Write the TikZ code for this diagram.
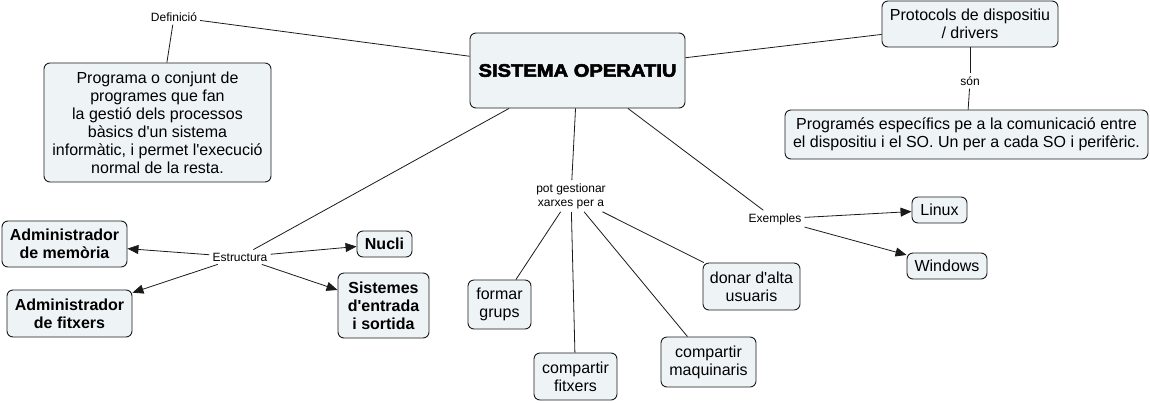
\documentclass[tikz,border=0pt]{standalone}
\usepackage{fontspec}
\setmainfont{Liberation Sans}
\newfontfamily\heavyfont[FakeBold=3]{Liberation Sans Bold}
\usetikzlibrary{arrows.meta}
\definecolor{boxfill}{HTML}{EEF4F6}
\definecolor{edge}{HTML}{1A1A1A}
\newcommand{\apo}{\textquotesingle}
\tikzset{
  concept/.style={draw=edge, line width=0.9pt, fill=boxfill, rounded corners=6pt,
    align=center, inner sep=0pt, font=\fontsize{16}{18}\selectfont},
  boldconcept/.style={concept, font=\fontsize{16}{18}\selectfont\bfseries},
  linklabel/.style={inner sep=3pt, align=center, font=\fontsize{12}{14}\selectfont},
  conn/.style={draw=edge, line width=0.8pt},
  arr/.style={conn, -{Triangle[length=11pt,width=9pt]}}
}
\begin{document}
\begin{tikzpicture}[x=1pt,y=-1pt]
\useasboundingbox (0,0) rectangle (1150,402);
% concepts
\node[concept, minimum width=215pt, minimum height=75pt] (so) at (577.5,70.5)
  {\heavyfont\fontsize{18}{20}\selectfont\scalebox{1.12}[1]{SISTEMA OPERATIU}};
\node[concept, minimum width=227pt, minimum height=119pt] (def) at (157.5,122.5)
  {Programa o conjunt de\\programes que fan\\la gestió dels processos\\bàsics d\apo un sistema\\informàtic, i permet l\apo execució\\normal de la resta.};
\node[concept, minimum width=176pt, minimum height=46pt] (prot) at (970,24)
  {Protocols de dispositiu\\/ drivers};
\node[concept, minimum width=363pt, minimum height=49pt] (prog) at (966.5,134.5)
  {Programés específics pe a la comunicació entre\\el dispositiu i el SO. Un per a cada SO i perifèric.};
\node[boldconcept, minimum width=125pt, minimum height=46pt] (admmem) at (64.5,244)
  {Administrador\\de memòria};
\node[boldconcept, minimum width=55pt, minimum height=26pt] (nucli) at (384.5,244)
  {Nucli};
\node[boldconcept, minimum width=125pt, minimum height=47pt] (admfit) at (69.5,313.5)
  {Administrador\\de fitxers};
\node[boldconcept, minimum width=91pt, minimum height=65pt] (sist) at (383.5,305.5)
  {Sistemes\\d\apo entrada\\i sortida};
\node[concept, minimum width=63pt, minimum height=49pt] (formar) at (499.5,304.5)
  {formar\\grups};
\node[concept, minimum width=83pt, minimum height=47pt] (compfit) at (575.5,376.5)
  {compartir\\fitxers};
\node[concept, minimum width=95pt, minimum height=50pt] (maq) at (708.5,362)
  {compartir\\maquinaris};
\node[concept, minimum width=97pt, minimum height=47pt] (donar) at (751.5,286.5)
  {donar d\apo alta\\usuaris};
\node[concept, minimum width=55pt, minimum height=26pt] (linux) at (939.5,210)
  {Linux};
\node[concept, minimum width=80pt, minimum height=26pt] (windows) at (947,266)
  {Windows};
% link labels
\node[linklabel] (defl) at (174,17) {Definició};
\node[linklabel] (son) at (970,81) {són};
\node[linklabel] (estr) at (240,257) {Estructura};
\node[linklabel] (pot) at (571,196) {pot gestionar\\xarxes per a};
\node[linklabel] (exem) at (775,219) {Exemples};
% connectors
\draw[conn] (so) -- (defl);
\draw[conn] (defl) -- (def);
\draw[conn] (so) -- (prot);
\draw[conn] (prot) -- (son);
\draw[conn] (son) -- (prog);
\draw[conn] (so) -- (estr);
\draw[arr] (estr) -- (admmem);
\draw[arr] (estr) -- (nucli);
\draw[arr] (estr) -- (admfit);
\draw[arr] (estr) -- (sist);
\draw[conn] (so) -- (pot);
\draw[conn] (pot) -- (formar);
\draw[conn] (pot) -- (compfit);
\draw[conn] (pot) -- (maq);
\draw[conn] (pot) -- (donar);
\draw[conn] (so) -- (exem);
\draw[arr] (exem) -- (linux);
\draw[arr] (exem) -- (windows);
\end{tikzpicture}
\end{document}
